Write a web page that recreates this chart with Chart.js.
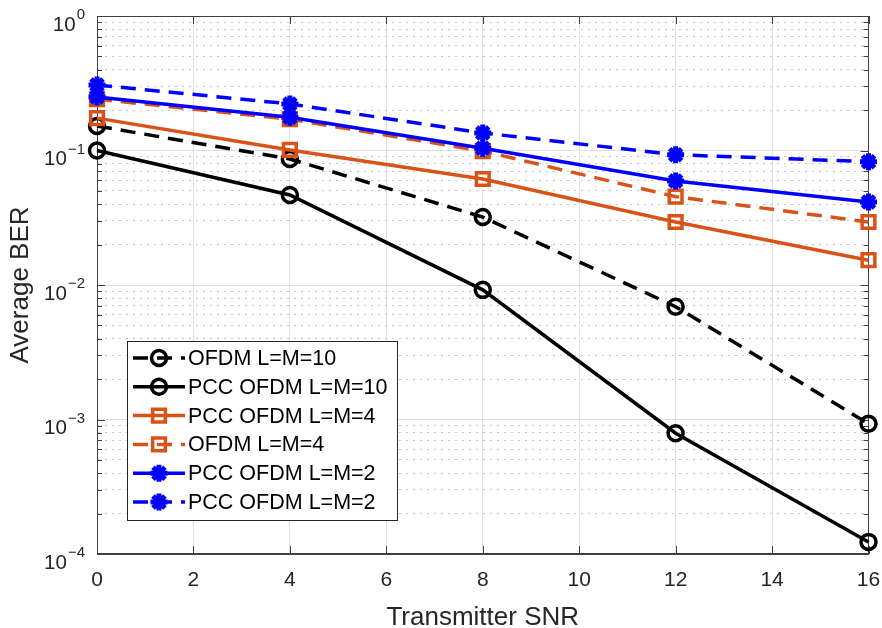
<!DOCTYPE html>
<html><head><meta charset="utf-8">
<script src="https://cdn.jsdelivr.net/npm/chart.js@4/dist/chart.umd.min.js"></script>
<style>html,body{margin:0;padding:0;background:#fff;}</style>
</head><body>
<canvas id="c" width="882" height="628"></canvas>
<script>
// ---- data ----
const snr = [0, 4, 8, 12, 16];
const ofdm10 = [0.152, 0.0865, 0.032, 0.0069, 0.00093];
const pcc10 = [0.100, 0.0467, 0.0092, 0.00079, 0.000123];
const pcc4 = [0.174, 0.101, 0.0614, 0.0294, 0.0153];
const ofdm4 = [0.241, 0.171, 0.099, 0.0454, 0.0294];
const pcc2 = [0.25, 0.177, 0.104, 0.0593, 0.0414];
const pcc2b = [0.307, 0.222, 0.135, 0.093, 0.0826];
const seriesLabels = ['OFDM L=M=10', 'PCC OFDM L=M=10', 'PCC OFDM L=M=4', 'OFDM L=M=4', 'PCC OFDM L=M=2', 'PCC OFDM L=M=2'];
const xTicks = [0, 2, 4, 6, 8, 10, 12, 14, 16];
const yDecadeExponents = [-4, -3, -2, -1, 0];
const yDecadeExponentLabels = ['\u22124', '\u22123', '\u22122', '\u22121', '0'];
const xTitle = 'Transmitter SNR';
const yTitle = 'Average BER';

// ---- styles ----
const BLACK = '#000000', ORANGE = '#D95319', BLUE = '#0000FF';
const DASH = [15, 9];
const styles = [
  {c: BLACK, dash: DASH, ps: 'circle', r: 7.5, bw: 3.5},
  {c: BLACK, dash: [], ps: 'circle', r: 7.5, bw: 3.5},
  {c: ORANGE, dash: [], ps: 'rect', r: 9, bw: 3.5},
  {c: ORANGE, dash: DASH, ps: 'rect', r: 9, bw: 3.5},
  {c: BLUE, dash: [], ps: 'star', r: 8.5, bw: 5},
  {c: BLUE, dash: DASH, ps: 'star', r: 8.5, bw: 5}
];
const seriesValues = [ofdm10, pcc10, pcc4, ofdm4, pcc2, pcc2b];
const FONT = "'Liberation Sans', Arial, sans-serif";

const datasets = seriesValues.map((vals, i) => ({
  label: seriesLabels[i],
  data: snr.map((x, j) => ({x: x, y: vals[j]})),
  borderColor: styles[i].c,
  backgroundColor: 'rgba(0,0,0,0)',
  borderWidth: 3.5,
  borderDash: styles[i].dash,
  pointStyle: styles[i].ps,
  pointRadius: styles[i].r,
  pointBorderWidth: styles[i].bw,
  pointBorderColor: styles[i].c,
  pointBackgroundColor: 'rgba(0,0,0,0)',
  tension: 0,
  clip: false,
  order: seriesValues.length - i
}));

const framePlugin = {
  id: 'frame',
  beforeDatasetsDraw(chart) {
    const ctx = chart.ctx;
    const {left, right, top, bottom} = chart.chartArea;
    ctx.save();
    ctx.strokeStyle = '#404040';
    ctx.lineWidth = 1;
    ctx.setLineDash([]);
    ctx.strokeRect(Math.round(left) + 0.5, Math.round(top) + 0.5, Math.round(right - left) - 1, Math.round(bottom - top) - 1);
    ctx.beginPath();
    chart.scales.y.ticks.forEach(t => {
      const p = Math.round(chart.scales.y.getPixelForValue(t.value)) + 0.5;
      const len = t.major ? 8 : 5;
      ctx.moveTo(left, p); ctx.lineTo(left + len, p);
      ctx.moveTo(right, p); ctx.lineTo(right - len, p);
    });
    chart.scales.x.ticks.forEach(t => {
      const p = Math.round(chart.scales.x.getPixelForValue(t.value)) + 0.5;
      ctx.moveTo(p, bottom); ctx.lineTo(p, bottom - 8);
      ctx.moveTo(p, top); ctx.lineTo(p, top + 8);
    });
    ctx.stroke();
    ctx.restore();
  },
  afterDraw(chart) {
    const ctx = chart.ctx;
    const {left, bottom} = chart.chartArea;
    const ys = chart.scales.y;
    ctx.save();
    // y tick labels 10^e
    ctx.fillStyle = '#262626';
    ctx.textBaseline = 'alphabetic';
    yDecadeExponents.forEach((e, i) => {
      const p = ys.getPixelForValue(Math.pow(10, e));
      const sup = yDecadeExponentLabels[i];
      ctx.font = '15px ' + FONT;
      const sw = ctx.measureText(sup).width;
      ctx.font = '20.5px ' + FONT;
      const bw = ctx.measureText('10').width;
      const xr = left - 12;
      ctx.textAlign = 'left';
      ctx.fillText('10', xr - sw - bw - 1, p + 14.5);
      ctx.font = '15px ' + FONT;
      ctx.fillText(sup, xr - sw, p + 3);
    });
    // legend
    const lx = left + 30, lw = 270, lh = 179;
    const ly = bottom - 34 - lh;
    ctx.fillStyle = '#ffffff';
    ctx.fillRect(lx, ly, lw, lh);
    ctx.strokeStyle = '#262626';
    ctx.lineWidth = 1;
    ctx.setLineDash([]);
    ctx.strokeRect(lx + 0.5, ly + 0.5, lw, lh);
    chart.data.datasets.forEach((ds, i) => {
      const cy = ly + 17 + i * 28.8;
      ctx.strokeStyle = ds.borderColor;
      ctx.lineWidth = 3.5;
      ctx.setLineDash(ds.borderDash);
      ctx.beginPath();
      ctx.moveTo(lx + 6, cy); ctx.lineTo(lx + 58, cy);
      ctx.stroke();
      ctx.setLineDash([]);
      ctx.lineWidth = ds.pointBorderWidth;
      ctx.fillStyle = 'rgba(0,0,0,0)';
      Chart.helpers.drawPoint(ctx, {pointStyle: ds.pointStyle, radius: ds.pointRadius, borderWidth: ds.pointBorderWidth, rotation: 0}, lx + 32, cy);
      ctx.fillStyle = '#000000';
      ctx.font = '21.5px ' + FONT;
      ctx.textAlign = 'left';
      ctx.textBaseline = 'middle';
      ctx.fillText(ds.label, lx + 61, cy + 1);
    });
    ctx.restore();
  }
};

new Chart(document.getElementById('c'), {
  type: 'line',
  data: {datasets: datasets},
  options: {
    responsive: false,
    animation: false,
    devicePixelRatio: 1,
    layout: {padding: {top: 16, right: 10, left: 0, bottom: 0}},
    plugins: {legend: {display: false}, tooltip: {enabled: false}},
    scales: {
      x: {
        type: 'linear', min: 0, max: 16,
        afterBuildTicks: s => { s.ticks = xTicks.map(v => ({value: v})); },
        afterFit: s => { s.height = 74; s.paddingLeft = 0; s.paddingRight = 0; },
        ticks: {autoSkip: false, padding: 14, color: '#262626', font: {family: FONT, size: 21}, maxRotation: 0},
        grid: {color: '#e0e0e0', lineWidth: 1, drawTicks: false},
        border: {display: true, color: '#404040', width: 1},
        title: {display: true, text: xTitle, color: '#262626', font: {family: FONT, size: 26, lineHeight: 0.8}, padding: {top: 0, bottom: 0}}
      },
      y: {
        type: 'logarithmic', min: 1e-4, max: 1,
        afterBuildTicks: s => {
          const t = [];
          yDecadeExponents.forEach((e, i) => {
            if (i < yDecadeExponents.length - 1) {
              for (let k = 1; k < 10; k++) t.push({value: k * Math.pow(10, e), major: k === 1});
            } else {
              t.push({value: Math.pow(10, e), major: true});
            }
          });
          s.ticks = t;
        },
        afterFit: s => { s.width = 97; },
        ticks: {autoSkip: false, callback: () => '', font: {family: FONT, size: 20}},
        grid: {
          color: c => (c.tick && c.tick.major) ? '#dedede' : '#c4c4c4',
          lineWidth: 1, drawTicks: false
        },
        border: {display: true, color: '#404040', width: 1, dash: c => (c.tick && !c.tick.major) ? [2, 5] : []},
        title: {display: true, text: yTitle, color: '#262626', font: {family: FONT, size: 26, lineHeight: 1}, padding: {top: 8, bottom: 0}}
      }
    }
  },
  plugins: [framePlugin]
});
</script>
</body></html>
